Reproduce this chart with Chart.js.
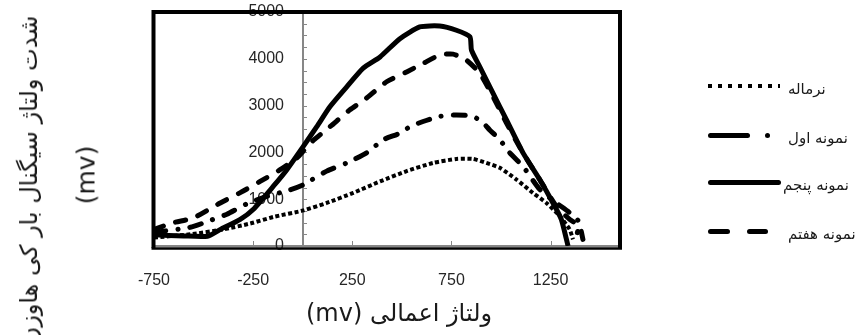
<!DOCTYPE html>
<html lang="fa">
<head>
<meta charset="utf-8">
<script src="https://cdn.jsdelivr.net/npm/chart.js@4.4.1/dist/chart.umd.min.js"></script>
<style>
  html, body { margin: 0; padding: 0; background: #fff; }
  #marco { position: relative; width: 857px; height: 335px; overflow: hidden; font-family: "DejaVu Sans", sans-serif; color: #1a1a1a; }
  #grafica { position: absolute; left: 0; top: 0; }
  .titulo-y { position: absolute; white-space: nowrap; font-size: 24px; transform: translate(-50%, -50%) rotate(-90deg); }
  .titulo-x { position: absolute; white-space: nowrap; font-size: 24px; transform: translate(-50%, -50%); }
  .leyenda-item { position: absolute; left: 0; width: 857px; height: 0; }
  .muestra { position: absolute; background: #000; height: 5px; margin-top: -2.5px; border-radius: 2.5px; }
  .leyenda-texto { position: absolute; left: 788px; top: 3px; transform: translateY(-50%); font-size: 15px; white-space: nowrap; }
</style>
</head>
<body>
<div id="marco">
  <canvas id="grafica" width="857" height="335"></canvas>
  <div class="titulo-y" style="left:29px; top:180px;">شدت ولتاژ سیگنال بار کی هاوزن</div>
  <div class="titulo-y" style="left:86px; top:175px; font-size:25px;">(mv)</div>
  <div class="titulo-x" dir="rtl" style="left:399px; top:313px;">ولتاژ اعمالی (mv)</div>
  <div id="leyenda"></div>
</div>
<script>
// Series (x en mV, y en mV)
const etiquetas = ['نرماله', 'نمونه اول', 'نمونه پنجم', 'نمونه هفتم'];

const normalX = [-750, -567, -400, -265, -148, 3, 121, 255, 390, 524, 658, 775, 859, 926, 994, 1078, 1161, 1229, 1296, 1346, 1363];
const normalY = [180, 250, 355, 480, 620, 760, 920, 1135, 1380, 1600, 1775, 1860, 1860, 1775, 1670, 1420, 1135, 920, 640, 355, 140];

const avvalX = [-750, -567, -483, -382, -282, -181, -64, 3, 121, 222, 322, 406, 490, 541, 607, 691, 775, 859, 910, 943, 994, 1044, 1111, 1195, 1279, 1346, 1396, 1385];
const avvalY = [290, 400, 520, 680, 900, 1060, 1200, 1310, 1600, 1775, 1990, 2270, 2410, 2550, 2660, 2770, 2800, 2770, 2630, 2480, 2270, 1990, 1700, 1210, 920, 710, 500, 285];

const panjomX = [-750, -600, -480, -415, -315, -250, -148, -80, 3, 71, 138, 222, 305, 390, 490, 590, 691, 775, 843, 851, 893, 960, 1027, 1111, 1195, 1262, 1304, 1330, 1338];
const panjomY = [240, 215, 210, 355, 570, 780, 1277, 1630, 2130, 2550, 2980, 3400, 3800, 4040, 4430, 4680, 4700, 4610, 4470, 4185, 3830, 3260, 2700, 1990, 1420, 920, 570, 140, 0];

const haftomX = [-750, -651, -551, -416, -315, -215, -114, -30, 3, 54, 138, 238, 322, 423, 524, 607, 691, 758, 826, 893, 960, 1027, 1111, 1195, 1279, 1346, 1396, 1413];
const haftomY = [355, 500, 600, 920, 1140, 1380, 1630, 1880, 2030, 2260, 2550, 2910, 3160, 3510, 3720, 3900, 4080, 4100, 3970, 3690, 3190, 2630, 1990, 1420, 850, 570, 425, 140];

const xTicks = [-750, -250, 250, 750, 1250];
const yTicks = [0, 1000, 2000, 3000, 4000, 5000];
const yPasoMenor = 250;

function puntos(xs, ys) {
  return xs.map((x, i) => ({ x: x, y: ys[i] }));
}

// ejes dibujados dentro del área: eje Y en x = 0, marcas hacia dentro, marco negro
const ejesPlugin = {
  id: 'ejes',
  beforeDatasetsDraw(chart) {
    const { ctx, chartArea: a, scales: { x, y } } = chart;
    const x0 = Math.round(x.getPixelForValue(0));
    ctx.save();
    ctx.strokeStyle = '#878787';
    ctx.lineWidth = 2;
    ctx.beginPath();
    ctx.moveTo(x0, a.top);
    ctx.lineTo(x0, a.bottom);
    ctx.moveTo(a.left, a.bottom);
    ctx.lineTo(a.right, a.bottom);
    ctx.stroke();

    ctx.lineWidth = 1;
    ctx.beginPath();
    for (let v = yTicks[0]; v <= yTicks[yTicks.length - 1]; v += yPasoMenor) {
      const py = Math.round(y.getPixelForValue(v)) + 0.5;
      ctx.moveTo(x0, py);
      ctx.lineTo(x0 + 4, py);
    }
    xTicks.forEach(v => {
      const px = Math.round(x.getPixelForValue(v)) + 0.5;
      ctx.moveTo(px, a.bottom);
      ctx.lineTo(px, a.bottom - 5);
    });
    ctx.stroke();

    ctx.fillStyle = '#262626';
    ctx.font = '16px "Liberation Sans", Arial, sans-serif';
    ctx.textAlign = 'right';
    ctx.textBaseline = 'middle';
    yTicks.forEach(v => ctx.fillText(String(v), x0 - 19, y.getPixelForValue(v)));
    ctx.restore();
  },
  afterDraw(chart) {
    const { ctx, chartArea: a } = chart;
    ctx.save();
    ctx.strokeStyle = '#000';
    ctx.lineWidth = 4;
    ctx.beginPath();
    ctx.moveTo(a.left - 0.5, a.bottom + 2);
    ctx.lineTo(a.left - 0.5, a.top);
    ctx.lineTo(a.right, a.top);
    ctx.lineTo(a.right, a.bottom + 2);
    ctx.stroke();
    ctx.lineWidth = 2.5;
    ctx.beginPath();
    ctx.moveTo(a.left - 2.5, a.bottom + 2.5);
    ctx.lineTo(a.right + 2, a.bottom + 2.5);
    ctx.stroke();
    ctx.restore();
  }
};

const comun = { borderColor: '#000', backgroundColor: '#000', pointRadius: 0, showLine: true, tension: 0.2, fill: false };

new Chart(document.getElementById('grafica'), {
  type: 'scatter',
  data: {
    datasets: [
      Object.assign({ label: etiquetas[0], data: puntos(normalX, normalY), borderWidth: 4, borderDash: [4, 2.5] }, comun),
      Object.assign({ label: etiquetas[1], data: puntos(avvalX, avvalY), borderWidth: 5, borderCapStyle: 'round', borderDash: [12, 12, 0.1, 12] }, comun),
      Object.assign({ label: etiquetas[2], data: puntos(panjomX, panjomY), borderWidth: 5 }, comun),
      Object.assign({ label: etiquetas[3], data: puntos(haftomX, haftomY), borderWidth: 5, borderCapStyle: 'round', borderDash: [10, 13] }, comun)
    ]
  },
  options: {
    responsive: false,
    animation: false,
    devicePixelRatio: 1,
    layout: { padding: { left: 154, right: 237, top: 12, bottom: 0 } },
    plugins: { legend: { display: false }, tooltip: { enabled: false } },
    scales: {
      x: {
        type: 'linear',
        min: -750,
        max: 1600,
        afterBuildTicks: s => { s.ticks = xTicks.map(v => ({ value: v })); },
        afterFit: s => { s.height = 89; },
        grid: { display: false },
        border: { display: false },
        ticks: {
          padding: 17, color: '#262626', maxRotation: 0, autoSkip: false,
          font: { family: 'Liberation Sans', size: 16 },
          callback: v => String(v)
        }
      },
      y: { display: false, min: 0, max: 5000 }
    }
  },
  plugins: [ejesPlugin]
});

// leyenda HTML a la derecha
const muestras = [
  '<div class="muestra" style="left:708px; width:72px; height:4px; margin-top:-2px; border-radius:0; background:repeating-linear-gradient(90deg,#000 0 4px,transparent 4px 10px);"></div>',
  '<div class="muestra" style="left:708px; width:42px;"></div><div class="muestra" style="left:765px; width:5px; border-radius:50%;"></div>',
  '<div class="muestra" style="left:708px; width:73px;"></div>',
  '<div class="muestra" style="left:708px; width:22px;"></div><div class="muestra" style="left:747px; width:21px;"></div>'
];
const alturas = [86, 135, 182, 231];
document.getElementById('leyenda').innerHTML = etiquetas.map((t, i) =>
  `<div class="leyenda-item" style="top:${alturas[i]}px;">${muestras[i]}<span class="leyenda-texto" dir="rtl"${i === 2 ? ' style="left:783px"' : ''}>${t}</span></div>`
).join('');
</script>
</body>
</html>
